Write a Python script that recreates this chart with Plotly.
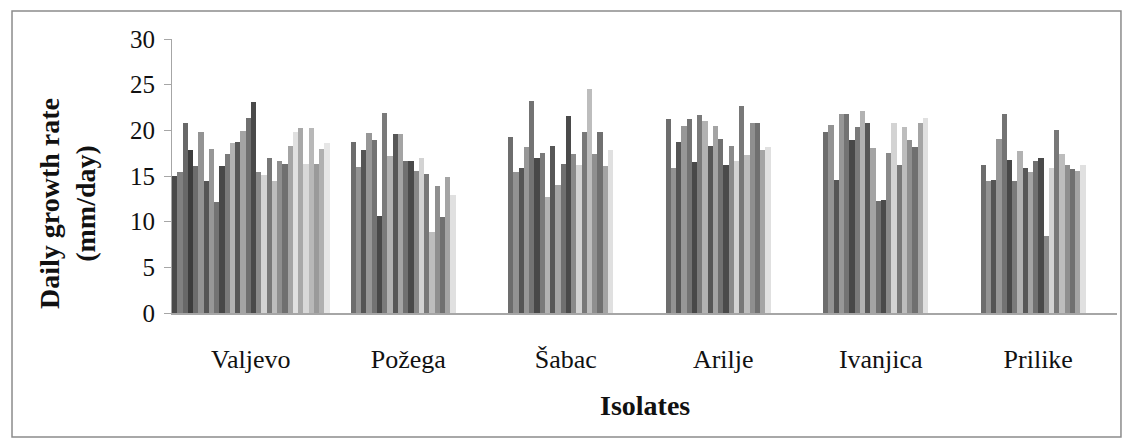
import plotly.graph_objects as go

categories = ["Valjevo", "Požega", "Šabac", "Arilje", "Ivanjica", "Prilike"]

valjevo = [15.0, 15.4, 20.8, 17.8, 16.1, 19.8, 14.5, 18.0, 12.2, 16.1,
           17.4, 18.6, 18.7, 19.9, 21.3, 23.1, 15.4, 15.1, 17.0, 14.4,
           16.6, 16.3, 18.3, 19.8, 20.3, 16.3, 20.3, 16.3, 18.0, 18.6]
pozega = [18.7, 16.0, 17.8, 19.7, 18.9, 10.6, 21.9, 17.2, 19.6, 19.6,
          16.6, 16.6, 15.5, 17.0, 15.2, 8.9, 13.9, 10.5, 14.9, 12.9]
sabac = [19.3, 15.4, 15.9, 18.2, 23.2, 17.0, 17.5, 12.7, 18.3, 14.0,
         16.3, 21.6, 17.4, 16.2, 19.8, 24.5, 17.4, 19.8, 16.1, 17.9]
arilje = [21.2, 15.9, 18.7, 20.5, 21.2, 16.5, 21.7, 21.0, 18.3, 20.5,
          19.1, 16.2, 18.3, 16.6, 22.7, 17.3, 20.8, 20.8, 17.8, 18.2]
ivanjica = [19.8, 20.6, 14.6, 21.8, 21.8, 18.9, 20.4, 22.1, 20.8, 18.1,
            12.3, 12.4, 17.5, 20.8, 16.2, 20.4, 18.9, 18.2, 20.8, 21.4]
prilike = [16.2, 14.4, 14.6, 19.1, 21.8, 16.7, 14.4, 17.7, 15.9, 15.4,
           16.6, 17.0, 8.4, 15.9, 20.0, 17.4, 16.2, 15.8, 15.6, 16.2]

# isolate slots: Valjevo has 30 isolates (slots 1-30); the other locations use isolates 5-24
first_slot_others = 4
n_slots = len(valjevo)

slot_colors = ["#4a4a4a", "#808080", "#686868", "#3d3d3d", "#6d6d6d",
               "#939393", "#555555", "#979797", "#737373", "#484848",
               "#7a7a7a", "#b2b2b2", "#575757", "#a4a4a4", "#707070",
               "#4a4a4a", "#8a8a8a", "#d3d3d3", "#787878", "#bdbdbd",
               "#8f8f8f", "#707070", "#a4a4a4", "#e0e0e0", "#a8a8a8",
               "#d8d8d8", "#b8b8b8", "#9a9a9a", "#b0b0b0", "#e6e6e6"]

others = [pozega, sabac, arilje, ivanjica, prilike]

fig = go.Figure()
for k in range(n_slots):
    ys = [valjevo[k]]
    for series in others:
        j = k - first_slot_others
        ys.append(series[j] if 0 <= j < len(series) else None)
    fig.add_trace(go.Bar(
        x=categories, y=ys, marker=dict(color=slot_colors[k], line=dict(width=0)),
        showlegend=False, name=f"Isolate {k+1}"))

serif = "Liberation Serif, Times New Roman, serif"

fig.update_layout(
    width=1125, height=440,
    margin=dict(l=164, r=16, t=31, b=135),
    barmode="group", bargap=0, bargroupgap=0,
    plot_bgcolor="white", paper_bgcolor="white",
    font=dict(family=serif, color="#111111"),
    xaxis=dict(
        showgrid=False, showline=True, linecolor="#a6a6a6", linewidth=2,
        ticks="", tickfont=dict(size=26, family=serif, color="#111111"),
        ticklabelstandoff=22, zeroline=False,
    ),
    yaxis=dict(
        range=[0, 30], dtick=5, showgrid=False, showline=True,
        linecolor="#a6a6a6", linewidth=1, ticks="outside", ticklen=7,
        tickcolor="#a6a6a6", tickfont=dict(size=25, family=serif, color="#111111"),
        zeroline=False, ticklabelstandoff=4,
    ),
    shapes=[dict(type="rect", xref="paper", yref="paper",
                 x0=-0.1693, x1=1.0042, y0=-0.4526, y1=1.102,
                 line=dict(color="#8c8c8c", width=1.5))],
    annotations=[
        dict(text="<b>Isolates</b>", xref="paper", yref="paper", x=0.5, y=-0.339,
             showarrow=False, font=dict(size=28, family=serif, color="#111111"),
             xanchor="center", yanchor="middle"),
        dict(text="<b>Daily growth rate<br>(mm/day)</b>", xref="paper", yref="paper",
             x=-0.110, y=0.398, textangle=-90, showarrow=False,
             font=dict(size=28, family=serif, color="#111111"),
             xanchor="center", yanchor="middle"),
    ],
)

fig.write_html("out.html")
